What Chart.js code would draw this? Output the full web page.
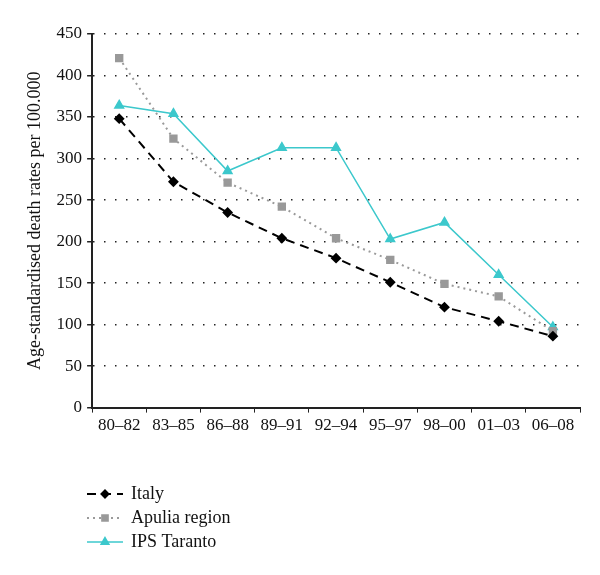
<!DOCTYPE html>
<html>
<head>
<meta charset="utf-8">
<script src="https://cdn.jsdelivr.net/npm/chart.js@4.4.1/dist/chart.umd.min.js"></script>
<style>
  html, body { margin: 0; padding: 0; background: #fff; }
  #wrap { width: 600px; height: 575px; position: relative; }
</style>
</head>
<body>
<div id="wrap"><canvas id="deathChart"></canvas></div>
<script>
// values
const periods = ['80–82', '83–85', '86–88', '89–91', '92–94', '95–97', '98–00', '01–03', '06–08'];
const italy = [348, 272, 235, 204, 180, 151, 121, 104, 86];
const apulia = [421, 324, 271, 242, 204, 178, 149, 134, 92];
const taranto = [364, 354, 285, 313, 313, 203, 223, 160, 97];

const FONT = '"Liberation Serif", "DejaVu Serif", serif';

// legend drawn by hand: line with marker in the middle, stacked vertically
const sideLegend = {
  id: 'sideLegend',
  afterDraw(chart) {
    const ctx = chart.ctx;
    const x0 = 87, y0 = 494, gap = 24;
    chart.data.datasets.forEach((ds, i) => {
      const y = y0 + i * gap;
      ctx.save();
      ctx.strokeStyle = ds.borderColor;
      ctx.lineWidth = ds.borderWidth;
      ctx.setLineDash(ds.borderDash || []);
      ctx.beginPath();
      ctx.moveTo(x0, y);
      ctx.lineTo(x0 + 36, y);
      ctx.stroke();
      ctx.setLineDash([]);
      ctx.fillStyle = ds.pointBackgroundColor;
      ctx.strokeStyle = ds.pointBorderColor;
      Chart.helpers.drawPoint(ctx, {
        pointStyle: ds.pointStyle,
        radius: ds.pointRadius - 0.5,
        borderWidth: 1,
        rotation: 0
      }, x0 + 18, y);
      ctx.fillStyle = '#111';
      ctx.font = '18px ' + FONT;
      ctx.textBaseline = 'middle';
      ctx.fillText(ds.label, x0 + 44, y);
      ctx.restore();
    });
  }
};

const ctx = document.getElementById('deathChart').getContext('2d');
new Chart(ctx, {
  type: 'line',
  data: {
    labels: periods,
    datasets: [
      {
        label: 'Italy',
        data: italy,
        borderColor: '#000',
        backgroundColor: '#000',
        pointBackgroundColor: '#000',
        pointBorderColor: '#000',
        borderWidth: 2,
        borderDash: [9, 6],
        pointStyle: 'rectRot',
        pointRadius: 4,
        tension: 0
      },
      {
        label: 'Apulia region',
        data: apulia,
        borderColor: '#9a9a9a',
        backgroundColor: '#999',
        pointBackgroundColor: '#999',
        pointBorderColor: '#999',
        borderWidth: 2,
        borderDash: [2, 4],
        pointStyle: 'rect',
        pointRadius: 4.5,
        tension: 0
      },
      {
        label: 'IPS Taranto',
        data: taranto,
        borderColor: '#3cc8cc',
        backgroundColor: '#3cc8cc',
        pointBackgroundColor: '#3cc8cc',
        pointBorderColor: '#3cc8cc',
        borderWidth: 1.5,
        pointStyle: 'triangle',
        pointRadius: 5,
        tension: 0
      }
    ]
  },
  options: {
    responsive: true,
    maintainAspectRatio: false,
    animation: false,
    layout: { padding: { left: 20, right: 20, top: 34, bottom: 136 } },
    plugins: {
      legend: { display: false },
      tooltip: { enabled: false }
    },
    scales: {
      x: {
        offset: true,
        grid: { display: true, drawOnChartArea: false, drawTicks: true, tickLength: 5, tickColor: '#222', offset: true },
        border: { color: '#222', width: 2 },
        ticks: { color: '#111', font: { family: FONT, size: 17 }, padding: 3, maxRotation: 0, autoSkip: false }
      },
      y: {
        min: 0,
        max: 450,
        ticks: { stepSize: 50, color: '#111', font: { family: FONT, size: 17 }, padding: 5 },
        grid: {
          color: '#222',
          lineWidth: 1.5,
          tickLength: 5,
          tickColor: '#222'
        },
        border: { color: '#222', width: 2, dash: [1.5, 9.5] },
        title: {
          display: true,
          text: 'Age-standardised death rates per 100.000',
          color: '#111',
          font: { family: FONT, size: 18 },
          padding: { bottom: 6 }
        }
      }
    }
  },
  plugins: [sideLegend]
});
</script>
</body>
</html>
